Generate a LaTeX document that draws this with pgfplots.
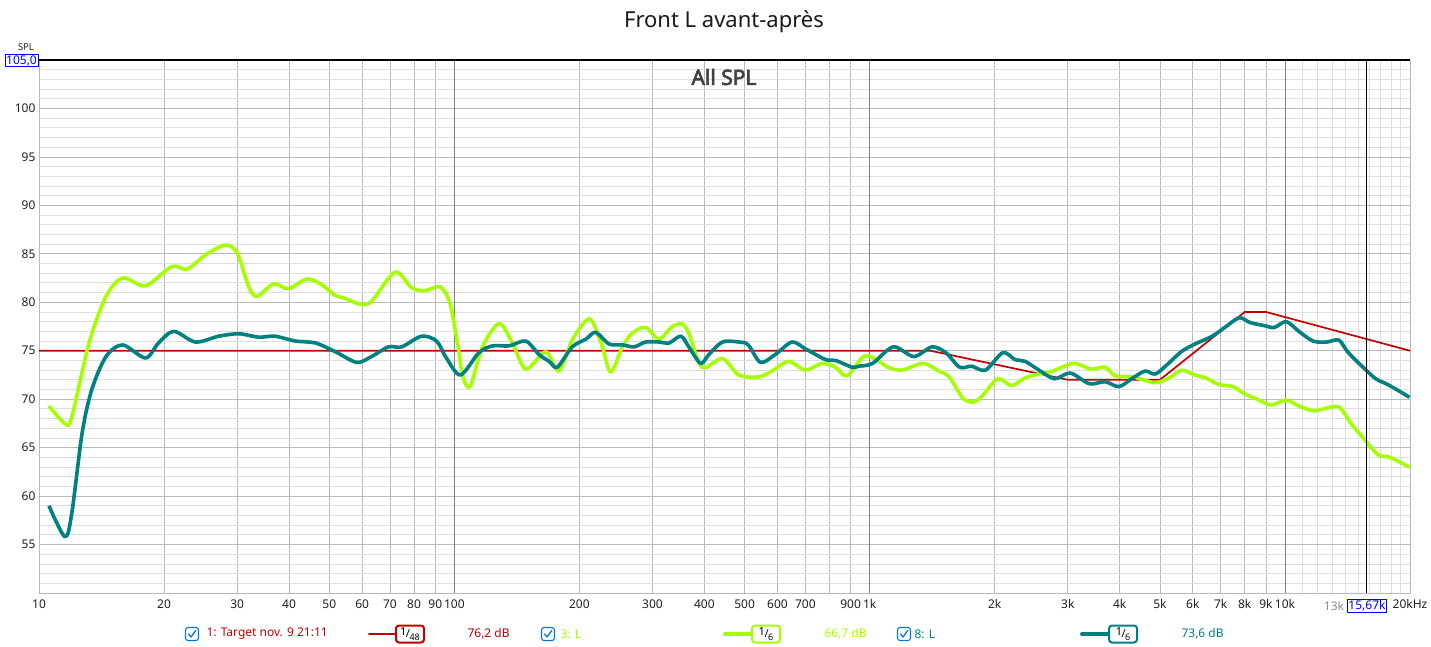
\documentclass[border=0pt]{standalone}
\usepackage{fontspec}
\setmainfont{Noto Sans}
\newfontfamily\allsplfont[FakeBold=3]{Noto Sans}
\usepackage{pgfplots}
\pgfplotsset{compat=1.18}
\definecolor{tgtred}{RGB}{195,0,0}
\definecolor{lgreen}{RGB}{165,255,0}
\definecolor{lteal}{RGB}{0,128,128}
\definecolor{gridlight}{RGB}{222,222,222}
\definecolor{gridmed}{RGB}{185,185,185}
\definecolor{griddark}{RGB}{128,128,128}
\definecolor{boxblue}{RGB}{0,0,255}
\definecolor{chkblue}{RGB}{0,120,215}
\definecolor{allspl}{RGB}{64,64,64}

\newcommand{\chk}[2]{\begin{scope}[shift={(#1pt,#2pt)}]
\draw[chkblue,line width=1.1pt,rounded corners=2.5pt,fill=white](-6.5pt,-6.5pt) rectangle (6.5pt,6.5pt);
\draw[chkblue,line width=1.3pt,line cap=round,line join=round](-3.5pt,0pt)--(-1pt,-3pt)--(3.8pt,3.5pt);
\end{scope}}
\newcommand{\fracc}[1]{\fontsize{11}{11}\selectfont\raisebox{2.5pt}{1}\kern-0.5pt{/}\kern-0.5pt\raisebox{-2.5pt}{\fontsize{9}{9}\selectfont #1}}
\newcommand{\legline}[4]{%
\draw[#2,line width=#3,line cap=round] (#1pt-26pt,-41pt) -- (#1pt+26pt,-41pt);
\node[draw=#2,line width=2pt,fill=white,rounded corners=3pt,minimum width=28pt,minimum height=17pt,inner sep=1pt,text=black] at (#1pt,-41pt) {\fracc{#4}};}

\pgfplotstableread{
f v
10 75
1400 75
3000 72
5000 72
8000 79
9000 79
20000 75
}\target

\pgfplotstableread{
f v
10.57 69.3
11.6 67.4
12.0 68.2
13.2 75.8
14.5 80.6
15.9 82.5
18.05 81.7
20.9 83.7
22.7 83.4
25.2 84.9
28.1 85.9
30.0 85.1
32.0 81.6
33.5 80.6
36.7 81.9
39.9 81.4
44.2 82.4
48.0 81.8
51.7 80.7
54.6 80.4
59.3 79.8
63.2 80.1
72.0 83.1
78.9 81.5
85.0 81.2
92.4 81.6
97.6 79.9
102.2 75.3
104.7 72.4
109.1 71.3
116.9 75.4
128.2 77.8
138 75.8
148.6 73.1
166 74.9
178.6 72.9
192.3 76.1
207.4 78.1
215 78.0
227.3 75.4
238 72.8
254 75.4
268 76.8
289 77.4
311 76.2
335 77.5
354 77.75
367 76.8
395 73.3
442 74.2
484 72.5
541 72.3
582 72.9
638 73.9
700 73.0
768 73.7
827 73.3
882 72.4
967 74.4
1036 74.1
1107 73.3
1196 73.0
1345 73.7
1467 72.9
1554 72.3
1677 70.1
1777 69.7
1864 70.3
2034 72.1
2195 71.4
2369 72.2
2557 72.6
2760 72.9
3100 73.7
3414 73.1
3688 73.3
3906 72.4
4304 72.3
4875 71.7
5313 72.3
5627 73.0
6075 72.5
6436 72.2
6942 71.5
7500 71.3
7945 70.6
8578 70.0
9240 69.4
10070 69.9
10800 69.3
11680 68.8
12380 69.0
13480 69.2
14410 67.5
15300 66.2
16730 64.3
17880 64.0
19950 63.0
}\greenL

\pgfplotstableread{
f v
10.57 59.0
11.55 55.8
12.0 58.3
12.7 66.5
13.4 71.0
14.5 74.4
15.9 75.6
18.05 74.25
19.4 75.8
21.1 77.0
23.8 75.9
27.1 76.5
30.3 76.75
33.8 76.4
37.0 76.5
41.4 76.0
46.3 75.8
51.7 74.9
58.2 73.8
63.2 74.4
69.4 75.4
74.7 75.4
83.4 76.5
90.6 76.0
95.7 74.25
103.5 72.5
114.6 74.8
123.6 75.5
135.6 75.5
148.6 76.0
160 74.6
169.2 73.9
177 73.3
192.3 75.4
207.4 76.2
219 76.9
235.7 75.7
254 75.6
271 75.4
289 75.9
311 75.9
329 75.8
351 76.5
367 75.4
391.6 73.7
410 74.6
442 75.9
484 75.9
510 75.6
546 73.8
592 74.6
650 75.9
700 75.2
782 74.1
827 74.0
908 73.3
940 73.4
1017 73.7
1139 75.4
1278 74.4
1413 75.4
1525 74.8
1647 73.3
1761 73.4
1901 73.0
2092 74.8
2237 74.1
2369 73.9
2557 73.0
2787 72.1
3041 72.7
3380 71.6
3688 71.8
3986 71.3
4304 72.2
4605 72.9
4875 72.6
5213 73.6
5627 74.9
6075 75.7
6683 76.5
7214 77.5
7765 78.4
8250 77.9
8900 77.6
9420 77.4
10070 78.0
10800 77.0
11680 76.0
12600 75.9
13480 76.1
14140 74.9
15150 73.6
16550 72.1
17700 71.5
19950 70.2
}\tealL

\begin{document}
\begin{tikzpicture}
\useasboundingbox (-39pt,-53pt) rectangle (1392pt,593pt);
\begin{axis}[
 at={(0pt,0pt)}, anchor=south west,
 scale only axis, width=1371pt, height=533pt,
 xmode=log, log basis x=10,
 xmin=10, xmax=20000, ymin=50, ymax=105,
 xtick={10,20,30,40,50,60,70,80,90,100,200,300,400,500,600,700,800,900,1000,2000,3000,4000,5000,6000,7000,8000,9000,10000,20000},
 xticklabels={10,20,30,40,50,60,70,80,90,100,200,300,400,500,600,700,,900,1k,2k,3k,4k,5k,6k,7k,8k,9k,10k,20kHz},
 minor xtick={11000,12000,13000,14000,15000,16000,17000,18000,19000},
 extra x ticks={100,1000,10000},
 extra x tick labels={},
 extra x tick style={grid=major, major grid style={griddark, line width=0.9pt}},
 ytick={55,60,65,70,75,80,85,90,95,100},
 minor ytick={51,52,53,54,56,57,58,59,61,62,63,64,66,67,68,69,71,72,73,74,76,77,78,79,81,82,83,84,86,87,88,89,91,92,93,94,96,97,98,99,101,102,103,104},
 xmajorgrids, ymajorgrids, xminorgrids, yminorgrids,
 major grid style={gridmed, line width=0.8pt},
 minor grid style={gridlight, line width=0.8pt},
 major tick length=0pt, minor tick length=0pt,
 axis line style={gridmed, line width=0.8pt},
 tick label style={font=\fontsize{12}{14}\selectfont, text=black!88},
 xticklabel style={yshift=-3pt},
 /pgf/number format/assume math mode=true,
 clip=true,
]
\addplot[tgtred, line width=1.7pt, line join=round] table[x=f,y=v] {\target};
\addplot[lgreen, line width=3.6pt, smooth, tension=0.5, line join=round] table[x=f,y=v] {\greenL};
\addplot[lteal, line width=3.6pt, smooth, tension=0.5, line join=round] table[x=f,y=v] {\tealL};
\draw[black, line width=1pt] (axis cs:15670,50) -- (axis cs:15670,105);
\end{axis}
\draw[black, line width=1.6pt] (0pt,533pt) -- (1371pt,533pt);
% titles
\node[font=\fontsize{22}{26}\selectfont, text=black!90] at (685pt,571pt) {Front L avant-après};
\node[font=\allsplfont\fontsize{21}{24}\selectfont, text=allspl] at (685pt,516pt) {All SPL};
\node[font=\fontsize{9.5}{10}\selectfont, text=black!85] at (-13pt,546pt) {SPL};
\node[draw=boxblue, text=boxblue, line width=0.9pt, inner sep=1.2pt, font=\fontsize{12}{13}\selectfont] at (-17.5pt,532.5pt) {105,0};
\node[font=\fontsize{12}{14}\selectfont, text=black!45] at (1295pt,-13pt) {13k};
\node[draw=boxblue, fill=white, text=boxblue, line width=0.9pt, inner sep=1.2pt, font=\fontsize{12}{13}\selectfont] at (1328pt,-13pt) {15,67k};
% legend
\begin{scope}[every node/.style={font=\fontsize{12}{13}\selectfont, anchor=west}]
\chk{153}{-41}
\node[text=tgtred] at (164pt,-41pt) {1: Target nov. 9 21:11};
\legline{356}{tgtred}{2pt}{48}
\node[text=tgtred] at (425pt,-41pt) {76,2 dB};
\chk{509}{-41}
\node[text=lgreen] at (518pt,-41pt) {3: L};
\legline{712}{lgreen}{4pt}{6}
\node[text=lgreen] at (782pt,-41pt) {66,7 dB};
\chk{865}{-41}
\node[text=lteal] at (872pt,-41pt) {8: L};
\legline{1069}{lteal}{4pt}{6}
\node[text=lteal] at (1139pt,-41pt) {73,6 dB};
\end{scope}
\end{tikzpicture}
\end{document}
